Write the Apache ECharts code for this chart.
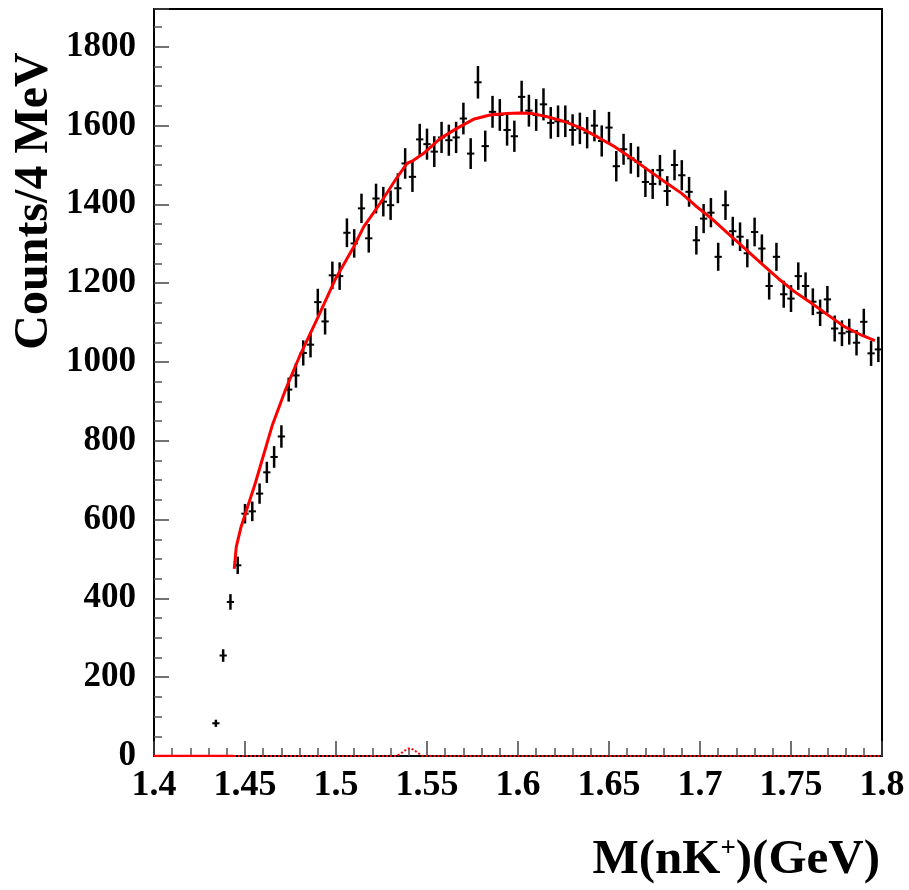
<!DOCTYPE html>
<html>
<head>
<meta charset="utf-8">
<script src="https://cdn.jsdelivr.net/npm/echarts@6/dist/echarts.min.js"></script>
<style>
html, body { margin: 0; padding: 0; background: #fff; }
#chart { width: 909px; height: 890px; }
</style>
</head>
<body>
<div id="chart"></div>
<script>
// bins of 4 MeV, first filled bin centred at 1.434 GeV
const binWidth = 0.004
const firstCenter = 1.434
const counts = [
  83, 255, 391, 484, 615, 621, 666, 720, 759, 811,
  930, 966, 1023, 1044, 1152, 1103, 1220, 1218, 1328, 1301,
  1390, 1314, 1415, 1407, 1398, 1441, 1504, 1470, 1565, 1553,
  1534, 1570, 1563, 1570, 1618, 1529, 1710, 1548, 1635, 1627,
  1589, 1573, 1673, 1638, 1627, 1654, 1607, 1611, 1611, 1589,
  1593, 1582, 1600, 1561, 1595, 1497, 1540, 1517, 1508, 1457,
  1452, 1487, 1434, 1500, 1474, 1432, 1309, 1364, 1379, 1267,
  1398, 1332, 1318, 1276, 1330, 1288, 1193, 1267, 1172, 1161,
  1218, 1193, 1153, 1125, 1159, 1085, 1073, 1077, 1049, 1102,
  1022, 1032
]

// fit curve (total)
const fitX = [1.4441, 1.4452, 1.4478, 1.4557, 1.4649, 1.4722, 1.4804, 1.4896, 1.4996, 1.5097,
  1.5152, 1.5243, 1.5326, 1.539, 1.5426, 1.548, 1.5572, 1.5664, 1.5755, 1.5846,
  1.5938, 1.601, 1.6075, 1.6166, 1.6258, 1.635, 1.6441, 1.6533, 1.6625, 1.6716,
  1.6808, 1.6899, 1.6972, 1.7064, 1.7155, 1.7247, 1.7338, 1.743, 1.7521, 1.7613,
  1.7704, 1.7796, 1.7888, 1.7961]
const fitY = [475, 531, 581, 693, 838, 929, 1019, 1109, 1210, 1292,
  1343, 1403, 1462, 1504, 1512, 1529, 1567, 1593, 1616, 1627,
  1631, 1632, 1631, 1622, 1610, 1593, 1570, 1546, 1517, 1487,
  1457, 1428, 1398, 1364, 1326, 1288, 1250, 1212, 1178, 1149,
  1119, 1089, 1068, 1054]

// signal component (dotted)
const sigX = [1.4, 1.5335, 1.536, 1.5385, 1.5405, 1.5425, 1.545, 1.5475, 1.8]
const sigY = [0, 0, 8, 16, 20, 16, 8, 0, 0]

const yTicks = { min: 0, max: 1896, interval: 200 }
const xTicks = { min: 1.4, max: 1.8, interval: 0.05 }

const font = "'Liberation Serif', 'DejaVu Serif', serif"

const points = counts.map((c, i) => [firstCenter + i * binWidth, c, Math.sqrt(c)])
const fitData = fitX.map((x, i) => [x, fitY[i]])
const sigData = sigX.map((x, i) => [x, sigY[i]])

const chart = echarts.init(document.getElementById('chart'), null, { renderer: 'canvas' })
const option = {
  animation: false,
  backgroundColor: '#fff',
  grid: {
    left: 154,
    right: 27,
    top: 9,
    bottom: 134,
    show: true,
    borderColor: '#000',
    borderWidth: 2,
    outerBoundsMode: 'none'
  },
  xAxis: {
    type: 'value',
    min: xTicks.min,
    max: xTicks.max,
    interval: xTicks.interval,
    axisLine: { show: false },
    splitLine: { show: false },
    axisTick: { inside: true, length: 15, lineStyle: { color: '#444', width: 1.5 } },
    minorTick: { show: true, splitNumber: 5, length: 8, lineStyle: { color: '#555', width: 1.5 } },
    axisLabel: {
      margin: 12,
      fontFamily: font,
      fontWeight: 'bold',
      fontSize: 36,
      color: '#000',
      formatter: function(v) {
        return String(parseFloat(v.toFixed(2)))
      }
    }
  },
  yAxis: {
    type: 'value',
    min: yTicks.min,
    max: yTicks.max,
    interval: yTicks.interval,
    axisLine: { show: false },
    splitLine: { show: false },
    axisTick: { inside: true, length: 15, lineStyle: { color: '#444', width: 1.5 } },
    minorTick: { show: true, splitNumber: 4, length: 8, lineStyle: { color: '#555', width: 1.5 } },
    axisLabel: {
      margin: 18,
      showMaxLabel: false,
      fontFamily: font,
      fontWeight: 'bold',
      fontSize: 35,
      color: '#000',
      formatter: function(v) {
        return String(Math.round(v))
      }
    }
  },
  graphic: [
    {
      type: 'text',
      x: 35,
      y: 201,
      rotation: Math.PI / 2,
      style: {
        text: 'Counts/4 MeV',
        fontFamily: font,
        fontWeight: 'bold',
        fontSize: 48,
        fill: '#000',
        align: 'center',
        verticalAlign: 'middle'
      }
    },
    {
      type: 'text',
      x: 880,
      y: 860,
      style: {
        text: '{a|M(nK}{s|+}{a|)(GeV)}',
        align: 'right',
        verticalAlign: 'middle',
        rich: {
          a: { fontFamily: font, fontWeight: 'bold', fontSize: 49, fill: '#000' },
          s: { fontFamily: font, fontWeight: 'bold', fontSize: 27, fill: '#000', verticalAlign: 'top', padding: [0, 0, 18, 0] }
        }
      }
    }
  ],
  series: [
    {
      name: 'signal',
      type: 'line',
      data: sigData,
      symbol: 'none',
      lineStyle: { color: '#ff0000', width: 2, type: 'dotted' },
      z: 3
    },
    {
      name: 'zero',
      type: 'line',
      data: [[1.4, 0], [1.444, 0]],
      symbol: 'none',
      lineStyle: { color: '#ff0000', width: 2.5 },
      z: 3
    },
    {
      name: 'data',
      type: 'custom',
      data: points,
      encode: { x: 0, y: 1 },
      renderItem: function(params, api) {
        const x = api.value(0)
        const y = api.value(1)
        const e = api.value(2)
        const top = api.coord([x, y + e])
        const bot = api.coord([x, y - e])
        const l = api.coord([x - binWidth / 2, y])
        const r = api.coord([x + binWidth / 2, y])
        return {
          type: 'group',
          children: [
            { type: 'line', shape: { x1: top[0], y1: top[1], x2: bot[0], y2: bot[1] }, style: { stroke: '#000', lineWidth: 2.5 } },
            { type: 'line', shape: { x1: l[0], y1: l[1], x2: r[0], y2: r[1] }, style: { stroke: '#000', lineWidth: 2 } }
          ]
        }
      },
      z: 4
    },
    {
      name: 'fit',
      type: 'line',
      data: fitData,
      symbol: 'none',
      smooth: false,
      lineStyle: { color: '#ff0000', width: 3 },
      z: 5
    }
  ]
}
chart.setOption(option)
</script>
</body>
</html>
